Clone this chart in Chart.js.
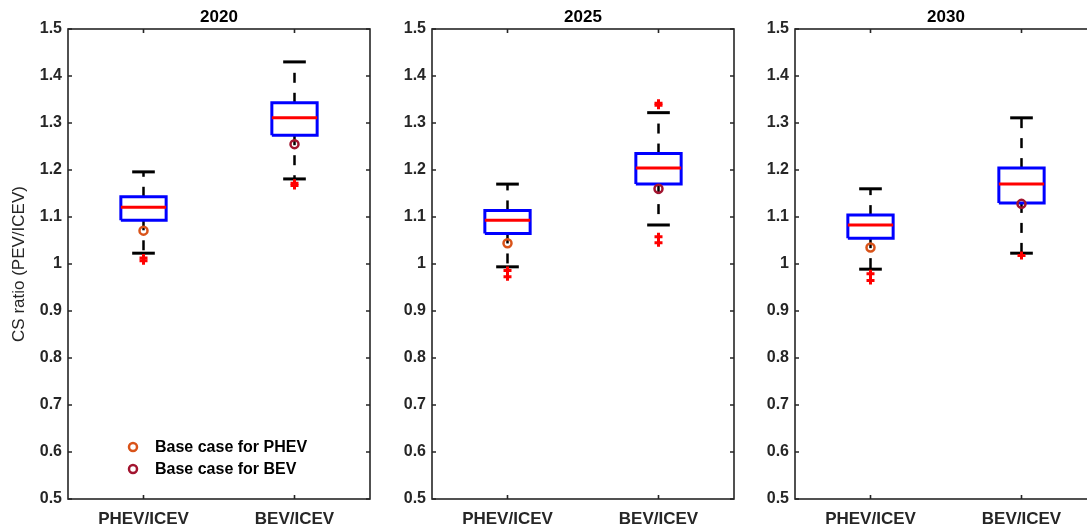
<!DOCTYPE html>
<html>
<head>
<meta charset="utf-8">
<script src="https://cdn.jsdelivr.net/npm/chart.js@4"></script>
<style>
  html, body { margin: 0; padding: 0; background: #fff; overflow: hidden; }
  #wrap { position: relative; width: 1087px; height: 529px; overflow: hidden; }
  canvas { position: absolute; top: 0; }
</style>
</head>
<body>
<div id="wrap">
  <canvas id="c0" width="380" height="529" style="left:0px"></canvas>
  <canvas id="c1" width="380" height="529" style="left:364px"></canvas>
  <canvas id="c2" width="380" height="529" style="left:727px"></canvas>
</div>
<script>
const years = ['2020', '2025', '2030'];
const categories = ['PHEV/ICEV', 'BEV/ICEV'];
const legendLabels = ['Base case for PHEV', 'Base case for BEV'];

// one row per year, [PHEV, BEV]
const lowWhisker  = [[1.023, 1.181], [0.994, 1.083], [0.989, 1.023]];
const q1          = [[1.093, 1.274], [1.065, 1.170], [1.055, 1.130]];
const median      = [[1.121, 1.311], [1.093, 1.204], [1.083, 1.170]];
const q3          = [[1.143, 1.343], [1.114, 1.235], [1.104, 1.204]];
const highWhisker = [[1.196, 1.430], [1.170, 1.322], [1.160, 1.311]];
const outliers = [
  [[1.013, 1.007], [1.172, 1.167]],
  [[0.986, 0.973], [1.338, 1.342, 1.058, 1.045]],
  [[0.979, 0.965], [1.018]]
];
const baseCase = [[1.071, 1.255], [1.044, 1.160], [1.035, 1.128]];

const baseColors = ['#D95319', '#A2142F'];
const boxHalf = 0.15;
const capHalf = 0.075;
const axisColor = '#262626';
const fontFamily = '"Liberation Sans", Arial, sans-serif';

function seg(x1, y1, x2, y2) {
  return [{ x: x1, y: y1 }, { x: x2, y: y2 }];
}

function lineSet(data, color, width, order, dash) {
  return {
    type: 'line', data: data, borderColor: color, borderWidth: width,
    pointRadius: 0, fill: false, tension: 0, order: order,
    borderDash: dash || [], borderCapStyle: 'butt'
  };
}

function buildDatasets(i) {
  const sets = [];
  categories.forEach((cat, j) => {
    const c = j + 1;
    sets.push(lineSet(seg(c, q3[i][j], c, highWhisker[i][j]), '#000', 2.5, 5, [10, 10]));
    sets.push(lineSet(seg(c, q1[i][j], c, lowWhisker[i][j]), '#000', 2.5, 5, [10, 10]));
    sets.push(lineSet(seg(c - capHalf, highWhisker[i][j], c + capHalf, highWhisker[i][j]), '#000', 3, 4));
    sets.push(lineSet(seg(c - capHalf, lowWhisker[i][j], c + capHalf, lowWhisker[i][j]), '#000', 3, 4));
    sets.push(lineSet([
      { x: c - boxHalf, y: q1[i][j] }, { x: c + boxHalf, y: q1[i][j] },
      { x: c + boxHalf, y: q3[i][j] }, { x: c - boxHalf, y: q3[i][j] },
      { x: c - boxHalf, y: q1[i][j] }
    ], '#0000FF', 3, 3));
    sets.push(lineSet(seg(c - boxHalf, median[i][j], c + boxHalf, median[i][j]), '#FF0000', 3, 2));
    sets.push({
      type: 'scatter', data: outliers[i][j].map(v => ({ x: c, y: v })),
      pointStyle: 'cross', pointRadius: 4, borderColor: '#FF0000', borderWidth: 3, order: 1
    });
    sets.push({
      type: 'scatter', label: legendLabels[j], data: [{ x: c, y: baseCase[i][j] }],
      pointStyle: 'circle', pointRadius: 4, borderColor: baseColors[j],
      backgroundColor: 'rgba(255,255,255,0)', borderWidth: 2.5, order: 0
    });
  });
  return sets;
}

const frameTicks = {
  id: 'frameTicks',
  afterDraw(chart) {
    const { ctx, chartArea: a, scales } = chart;
    ctx.save();
    ctx.strokeStyle = axisColor;
    ctx.lineWidth = 1.6;
    ctx.strokeRect(a.left, a.top, a.right - a.left, a.bottom - a.top);
    scales.y.ticks.forEach(t => {
      const py = scales.y.getPixelForValue(t.value);
      ctx.beginPath();
      ctx.moveTo(a.left, py); ctx.lineTo(a.left + 4, py);
      ctx.moveTo(a.right, py); ctx.lineTo(a.right - 4, py);
      ctx.stroke();
    });
    scales.x.ticks.forEach(t => {
      const px = scales.x.getPixelForValue(t.value);
      ctx.beginPath();
      ctx.moveTo(px, a.bottom); ctx.lineTo(px, a.bottom - 4);
      ctx.moveTo(px, a.top); ctx.lineTo(px, a.top + 4);
      ctx.stroke();
    });
    ctx.restore();
  }
};

const innerLegend = {
  id: 'innerLegend',
  afterDraw(chart) {
    if (chart.canvas.id !== 'c0') return;
    const { ctx, chartArea: a } = chart;
    ctx.save();
    ctx.font = 'bold 16px ' + fontFamily;
    ctx.textBaseline = 'middle';
    legendLabels.forEach((label, j) => {
      const y = a.bottom - 52 + j * 22;
      ctx.beginPath();
      ctx.arc(a.left + 65, y, 4, 0, Math.PI * 2);
      ctx.strokeStyle = baseColors[j];
      ctx.lineWidth = 2.5;
      ctx.stroke();
      ctx.fillStyle = '#000';
      ctx.fillText(label, a.left + 87, y + 1);
    });
    ctx.restore();
  }
};

years.forEach((year, i) => {
  new Chart(document.getElementById('c' + i), {
    type: 'line',
    data: { datasets: buildDatasets(i) },
    plugins: [frameTicks, innerLegend],
    options: {
      responsive: false,
      animation: false,
      events: [],
      layout: { padding: { left: 0, right: 10, top: 0, bottom: 0 } },
      plugins: {
        legend: { display: false },
        tooltip: { enabled: false },
        title: {
          display: true, text: year, color: '#000', fullSize: false,
          font: { family: fontFamily, size: 17, weight: 'bold' },
          padding: { top: 7, bottom: 1.6 }
        }
      },
      scales: {
        x: {
          type: 'linear', min: 0.5, max: 2.5,
          grid: { display: false, drawTicks: false }, border: { display: false },
          afterBuildTicks: s => { s.ticks = categories.map((c, j) => ({ value: j + 1 })); },
          afterFit: s => { s.height = 30; },
          ticks: {
            padding: 10, color: axisColor, maxRotation: 0,
            font: { family: fontFamily, size: 17, weight: 'bold' },
            callback: v => categories[v - 1]
          }
        },
        y: {
          min: 0.5, max: 1.5,
          grid: { display: false, drawTicks: false }, border: { display: false },
          afterFit: s => { s.width = 68; },
          title: {
            display: i === 0, text: 'CS ratio (PEV/ICEV)', color: axisColor,
            font: { family: fontFamily, size: 17 }, padding: { top: 9, bottom: 0 }
          },
          ticks: {
            stepSize: 0.1, padding: 6, color: axisColor,
            font: { family: fontFamily, size: 16, weight: 'bold' },
            callback: v => String(Math.round(v * 10) / 10)
          }
        }
      }
    }
  });
});
</script>
</body>
</html>
